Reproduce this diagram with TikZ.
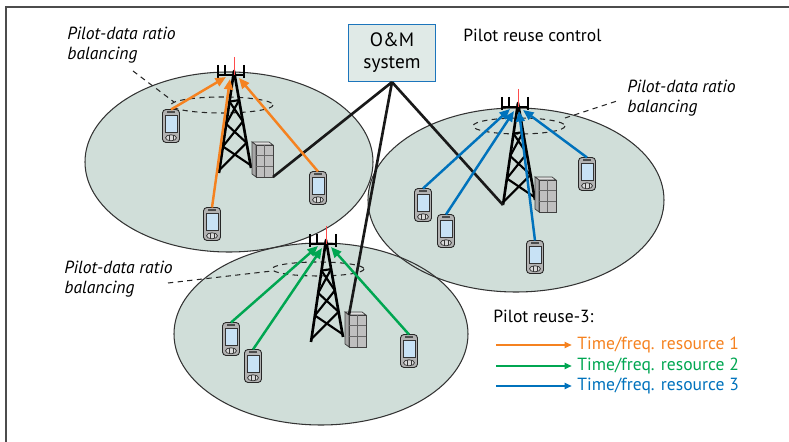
\documentclass[tikz,border=0pt]{standalone}
\usepackage{fontspec}
\setmainfont{PT Sans}
\usetikzlibrary{arrows.meta}
\definecolor{resorange}{RGB}{245,130,32}
\definecolor{resgreen}{RGB}{0,166,81}
\definecolor{resblue}{RGB}{0,114,188}
\definecolor{cellgray}{RGB}{208,222,217}
\definecolor{boxfill}{RGB}{224,234,231}
\definecolor{boxline}{RGB}{28,117,188}
\definecolor{screenblue}{RGB}{200,226,245}

\tikzset{
  cellborder/.style={draw=black!80, line width=0.6pt},
  pilot/.style={-{Triangle[length=6pt,width=5pt]}, line width=1.4pt},
  legarrow/.style={-{Triangle[length=4pt,width=3.5pt]}, line width=1pt},
  backhaul/.style={line width=1.5pt, black!90},
  balance/.style={dash pattern=on 3pt off 2.5pt, line width=0.6pt, black!85},
  note/.style={font=\itshape\fontsize{10}{11.5}\selectfont, align=left, anchor=north west, inner sep=0pt},
  plain/.style={font=\fontsize{10}{11.5}\selectfont, inner sep=0pt},
  % mobile handset, centred on its screen
  pics/handset/.style={code={
    \draw[black!85, fill=gray!60, rounded corners=2pt, line width=0.5pt] (-8.5,-16.5) rectangle (8.5,16.5);
    \fill[black!70] (-4,-14.5) rectangle (4,-13);
    \draw[black!80, fill=screenblue, line width=0.4pt] (-6,-10.5) rectangle (6,6);
    \draw[black!80, fill=gray!30, line width=0.4pt] (0,11.8) ellipse (5.5 and 3);
    \draw[black!80, line width=0.3pt] (-2,9) -- (-2,14.5) (2,9) -- (2,14.5);
    \coordinate (-top) at (0,-16.5);
  }},
  % lattice tower, origin at the apex
  pics/tower/.style={code={
    \draw[line width=1.5pt, line join=round] (-15,102) -- (0,0) -- (17,97);
    \foreach \a/\b in {0.3/0.52, 0.52/0.74, 0.74/0.97}
      \draw[line width=1.2pt] ({-15*\a},{102*\a}) -- ({17*\b},{97*\b})
                              ({17*\a},{97*\a}) -- ({-15*\b},{102*\b});
    \draw[line width=1.2pt] ({-15*0.3},{102*0.3}) -- ({17*0.3},{97*0.3});
    \draw[line width=0.6pt] (-16,4) -- (11,4)
      (-16,-6) -- (-16,7) (-9,-6) -- (-9,4) (10,-6) -- (10,7);
    \draw[red!70, line width=0.5pt] (0,-14) -- (0,4);
    \coordinate (-bl) at (-15,102);
    \coordinate (-a1) at (-8,6);
    \coordinate (-a2) at (-4,8);
    \coordinate (-a3) at (1,8);
    \coordinate (-a4) at (5,7);
  }},
  % equipment cabinet, origin at the back top-left corner
  pics/building/.style={code={
    \draw[black!75, fill=gray!25, line width=0.4pt] (0,0) -- (17,0) -- (21,3) -- (4,3) -- cycle;
    \draw[black!75, fill=gray!70, line width=0.4pt] (0,0) -- (4,3) -- (4,35) -- (0,32) -- cycle;
    \draw[black!75, fill=gray!50, line width=0.4pt] (4,3) rectangle (21,35);
    \draw[black!60, line width=0.4pt] (12.5,3) -- (12.5,35) (4,13.7) -- (21,13.7) (4,24.3) -- (21,24.3);
    \coordinate (-tl) at (4,3);
    \coordinate (-br) at (21,35);
  }},
}

\begin{document}
\begin{tikzpicture}[x=0.02cm, y=-0.02cm]
\useasboundingbox (0,0) rectangle (789,442);

% frame
\draw[black!70, line width=1pt] (6,442) -- (6,7) -- (789,7);

% cells
\fill[cellgray] (229,162) ellipse (144 and 90);
\fill[cellgray] (516,200) ellipse (148 and 92);
\fill[cellgray] (321,334) ellipse (147 and 91);
\draw[cellborder] (229,162) ellipse (144 and 90);
\draw[cellborder] (516,200) ellipse (148 and 92);
\draw[cellborder] (321,334) ellipse (147 and 91);

% pilot-data balancing rings
\draw[balance] (222,105) ellipse (51 and 8);
\draw[balance] (519,126) ellipse (46 and 8);
\draw[balance] (318,269) ellipse (46 and 7);

% towers and cabinets
\pic (t1) at (234,71) {tower};
\pic (t2) at (518,103) {tower};
\pic (t3) at (326,240) {tower};
\pic (b1) at (252,142) {building};
\pic (b2) at (535,177) {building};
\pic (b3) at (345,312) {building};

% O&M and backhaul
\node[draw=boxline, fill=boxfill, line width=0.7pt, minimum width=1.74cm, minimum height=1.14cm,
      align=center, font=\fontsize{11}{12.5}\selectfont, inner sep=0pt] (oam) at (392,53) {O\&M\\system};
\draw[backhaul] (oam.south) -- (b1-br);
\draw[backhaul] (oam.south) -- (t2-bl);
\draw[backhaul] (oam.south) -- (b3-tl);
\node[plain, anchor=north west] (ctrl) at (463,29) {Pilot reuse control};

% handsets
\pic (u1) at (171,126) {handset};
\pic (u2) at (212,224) {handset};
\pic (u3) at (318,188) {handset};
\pic (u4) at (423,205) {handset};
\pic (u5) at (446,231) {handset};
\pic (u6) at (535,257) {handset};
\pic (u7) at (587,174) {handset};
\pic (u8) at (231,339) {handset};
\pic (u9) at (253,366) {handset};
\pic (u10) at (409,351) {handset};

% pilots, resource 1
\draw[pilot, resorange] (u1-top) -- (t1-a1);
\draw[pilot, resorange] (u2-top) -- (t1-a2);
\draw[pilot, resorange] (u3-top) -- (t1-a4);
% pilots, resource 3
\draw[pilot, resblue] (u4-top) -- (t2-a1);
\draw[pilot, resblue] (u5-top) -- (t2-a2);
\draw[pilot, resblue] (u6-top) -- (t2-a3);
\draw[pilot, resblue] (u7-top) -- (t2-a4);
% pilots, resource 2
\draw[pilot, resgreen] (u8-top) -- (t3-a1);
\draw[pilot, resgreen] (u9-top) -- (t3-a2);
\draw[pilot, resgreen] (u10-top) -- (t3-a4);

% balancing labels
\node[note] (pd1) at (67,27) {Pilot-data ratio\\balancing};
\node[note] (pd2) at (627,80) {Pilot-data ratio\\balancing};
\node[note] (pd3) at (64,261) {Pilot-data ratio\\balancing};
\coordinate (r1) at (174,102);
\coordinate (r2) at (565,118);
\coordinate (r3) at (272,271);
\draw[balance] (133,71) -- (r1);
\draw[balance] (r2) -- (617,101);
\draw[balance] (168,283) -- (r3);

% legend
\node[plain, anchor=north west] (lgt) at (493,310) {Pilot reuse-3:};
\node[plain, anchor=west, text=resorange] (res1) at (577,345) {Time/freq. resource 1};
\node[plain, anchor=west, text=resgreen] (res2) at (577,366) {Time/freq. resource 2};
\node[plain, anchor=west, text=resblue] (res3) at (577,386) {Time/freq. resource 3};
\coordinate (l1) at (496,345);
\coordinate (l2) at (496,366);
\coordinate (l3) at (496,386);
\draw[legarrow, resorange] (l1) -- ([xshift=-3pt]res1.west);
\draw[legarrow, resgreen] (l2) -- ([xshift=-3pt]res2.west);
\draw[legarrow, resblue] (l3) -- ([xshift=-3pt]res3.west);
\end{tikzpicture}
\end{document}
